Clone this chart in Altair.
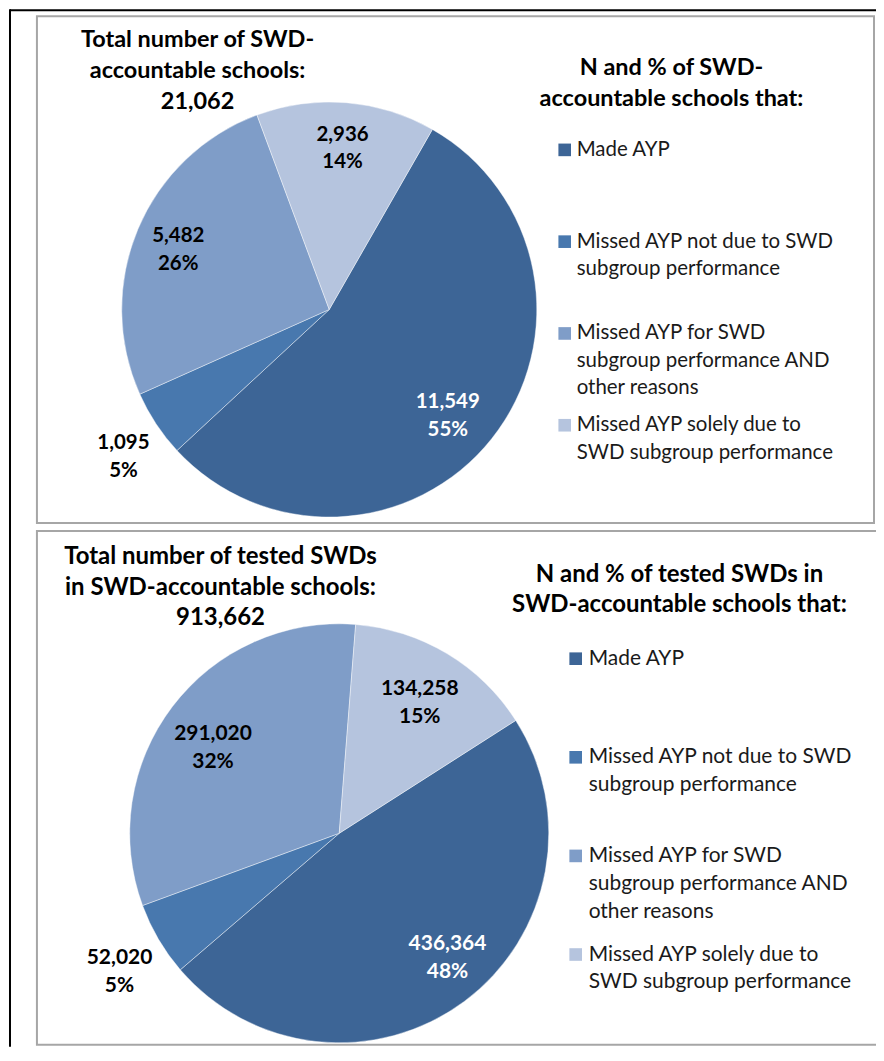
import math
import altair as alt
import pandas as pd

# ---------------- data ----------------
categories = [
    "Made AYP",
    "Missed AYP not due to SWD subgroup performance",
    "Missed AYP for SWD subgroup performance AND other reasons",
    "Missed AYP solely due to SWD subgroup performance",
]
legend_labels = [
    "Made AYP",
    "Missed AYP not due to SWD\nsubgroup performance",
    "Missed AYP for SWD\nsubgroup performance AND\nother reasons",
    "Missed AYP solely due to\nSWD subgroup performance",
]
colors = ["#3D6596", "#4878AE", "#7F9DC8", "#B5C4DE"]

schools_n = [11549, 1095, 5482, 2936]
schools_pct = [55, 5, 26, 14]
tested_n = [436364, 52020, 291020, 134258]
tested_pct = [48, 5, 32, 15]

top_left_title = ["Total number of SWD-", "accountable schools:", "21,062"]
top_legend_title = ["N and % of SWD-", "accountable schools that:"]
bottom_left_title = ["Total number of tested SWDs", "in SWD-accountable schools:", "913,662"]
bottom_legend_title = ["N and % of tested SWDs in", "SWD-accountable schools that:"]

FONT = "Lato"
W, H = 870, 1040


def make_df(ns, pcts):
    return pd.DataFrame({
        "cat": categories,
        "order": list(range(len(categories))),
        "n": ns,
        "label": [f"{n:,}\n{p}%" for n, p in zip(ns, pcts)],
        "legend": legend_labels,
    })


color_scale = alt.Scale(domain=categories, range=colors)


def panel(ns, pcts, left_title, legend_title, box, cx, cy, r, start_deg,
          label_place, left_tx, left_ty, leg_tx, leg_ty, sq_x, txt_x, leg_y,
          title_fs, title_lh, lab_fs, lab_lh, leg_fs, leg_lh):
    df = make_df(ns, pcts)
    start = math.radians(start_deg)
    theta = alt.Theta("n:Q", stack=True,
                      scale=alt.Scale(range=[start, start + 2 * math.pi]))
    order = alt.Order("order:Q", sort="ascending")

    border = alt.Chart(pd.DataFrame({"k": [0]})).mark_rect(
        fillOpacity=0, stroke="#A6A6A6", strokeWidth=2
    ).encode(x=alt.value(box[0]), x2=alt.value(box[1]),
             y=alt.value(box[2]), y2=alt.value(box[3]))

    base = alt.Chart(df).encode(theta=theta, order=order,
                                x=alt.value(cx), y=alt.value(cy))
    arcs = base.mark_arc(outerRadius=r, stroke="#ffffff", strokeWidth=0.6,
                         strokeOpacity=0.7).encode(
        color=alt.Color("cat:N", scale=color_scale, legend=None)
    )
    labels = []
    for i, (rr, ddx, ddy) in enumerate(label_place):
        labels.append(
            base.mark_text(radius=rr, dx=ddx, dy=ddy - lab_lh / 2, font=FONT,
                           fontSize=lab_fs, fontWeight="bold", lineBreak="\n",
                           lineHeight=lab_lh, baseline="middle", align="center",
                           color="#ffffff" if i == 0 else "#000000").encode(
                text=alt.condition(f"datum.order == {i}", alt.Text("label:N"), alt.value(""))
            )
        )

    t1 = alt.Chart(pd.DataFrame({"t": ["\n".join(left_title)]})).mark_text(
        font=FONT, fontSize=title_fs, fontWeight="bold", lineBreak="\n", lineHeight=title_lh,
        baseline="middle", align="center", color="#000000"
    ).encode(text="t:N", x=alt.value(left_tx), y=alt.value(left_ty))
    t2 = alt.Chart(pd.DataFrame({"t": ["\n".join(legend_title)]})).mark_text(
        font=FONT, fontSize=title_fs, fontWeight="bold", lineBreak="\n", lineHeight=title_lh,
        baseline="middle", align="center", color="#000000"
    ).encode(text="t:N", x=alt.value(leg_tx), y=alt.value(leg_ty))

    leg = alt.Chart(df).encode(
        y=alt.Y("cat:N", sort=categories, axis=None,
                scale=alt.Scale(domain=categories, range=leg_y, padding=0))
    )
    squares = leg.mark_square(size=160, opacity=1).encode(
        x=alt.value(sq_x),
        color=alt.Color("cat:N", scale=color_scale, legend=None),
    )
    leg_text = leg.mark_text(font=FONT, fontSize=leg_fs, lineBreak="\n", lineHeight=leg_lh,
                             baseline="middle", align="left",
                             color="#1A1A1A").encode(
        x=alt.value(txt_x), text="legend:N"
    )
    return alt.layer(border, arcs, *labels, t1, t2, squares, leg_text)


p1 = panel(schools_n, schools_pct, top_left_title, top_legend_title,
           box=(29, 868, 7, 515), cx=322, cy=301, r=208, start_deg=29.8,
           label_place=[(162, -8, 6), (252, 4, 9), (162, -2, 3), (162, 0, 0)],
           left_tx=190, left_ty=30.6, leg_tx=665, leg_ty=59,
           sq_x=558, txt_x=570, leg_y=[141, 417],
           title_fs=23.5, title_lh=31, lab_fs=20.5, lab_lh=27.5, leg_fs=20.5, leg_lh=27.5)
p2 = panel(tested_n, tested_pct, bottom_left_title, bottom_legend_title,
           box=(29, 890, 523, 1038), cx=332, cy=826, r=210, start_deg=57.4,
           label_place=[(155, 16, 1), (260, 4, 7), (155, -3, 8), (155, 1, 2)],
           left_tx=213, left_ty=548.7, leg_tx=673, leg_ty=566.7,
           sq_x=569, txt_x=582, leg_y=[651, 947.5],
           title_fs=24, title_lh=31, lab_fs=21, lab_lh=28, leg_fs=21, leg_lh=28)

outer = alt.Chart(pd.DataFrame({"k": [0]})).mark_rule(color="#000000", strokeWidth=2).encode(
    x=alt.value(2), x2=alt.value(2), y=alt.value(0), y2=alt.value(H)
)
outer_top = alt.Chart(pd.DataFrame({"k": [0]})).mark_rule(color="#000000", strokeWidth=2).encode(
    x=alt.value(2), x2=alt.value(W), y=alt.value(1), y2=alt.value(1)
)

chart = alt.layer(outer, outer_top, p1, p2).resolve_scale(
    y="independent", theta="independent"
).properties(
    width=W, height=H, autosize=alt.AutoSizeParams(type="none"), padding=0,
    background="#ffffff"
).configure_view(stroke=None)

chart.save("out.html", embed_options={"renderer": "svg", "actions": False})
